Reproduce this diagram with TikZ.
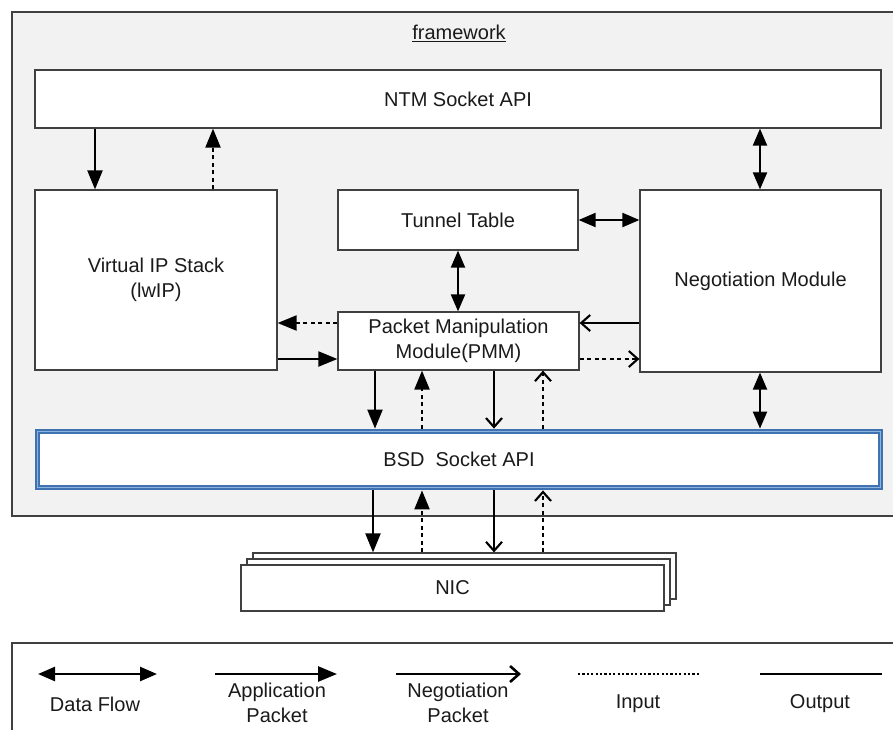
\documentclass[tikz,border=0pt]{standalone}
\usepackage{fontspec}
\setmainfont{Liberation Sans}
\usetikzlibrary{arrows.meta}
\definecolor{bgc}{HTML}{F2F2F2}
\definecolor{edge}{HTML}{404040}
\definecolor{bsdblue}{HTML}{3F73B0}
\definecolor{bsdlight}{HTML}{8DB3E2}
\definecolor{txt}{HTML}{1A1A1A}
\begin{document}
\begin{tikzpicture}[x=1pt,y=-1pt,
  every node/.style={font=\fontsize{20}{25}\selectfont, text=txt, align=center},
  blk/.style={draw=edge, line width=1.2pt, fill=white, inner sep=0pt},
  ln/.style={line width=2.1pt, draw=black},
  inp/.style={ln, dash pattern=on 4pt off 3.5pt},
  dotl/.style={ln, dash pattern=on 2.2pt off 2.2pt},
  app/.style={-{Triangle[length=19pt,width=15pt]}},
  neg/.style={-{Straight Barb[length=9pt,width=16pt]}},
  flow/.style={{Triangle[length=17pt,width=14pt]}-{Triangle[length=17pt,width=14pt]}},
]
\useasboundingbox (0,0) rectangle (893,729);
\fill[white] (0,0) rectangle (893,729);
% framework
\draw[fill=bgc, draw=edge, line width=1.4pt] (12,12) rectangle (910,516);
\node (fw) at (459,33) {\underline{framework}};
% blocks
\node[blk, minimum width=846pt, minimum height=58pt] (ntm) at (458,99) {NTM Socket API};
\node[blk, minimum width=242pt, minimum height=180pt] (vip) at (156,280) {Virtual IP Stack\\(lwIP)};
\node[blk, minimum width=240pt, minimum height=60pt] (tt) at (458,220) {Tunnel Table};
\node[blk, minimum width=241pt, minimum height=182pt] (nm) at (760.5,281) {Negotiation Module};
\node[blk, minimum width=241pt, minimum height=58pt] (pmm) at (458.5,341) {Packet Manipulation\\Module(PMM)};
\node[draw=bsdblue, line width=2.2pt, double=bsdlight, double distance=1.4pt, fill=white,
      minimum width=843pt, minimum height=56pt, inner sep=0pt, outer sep=2.9pt] (bsd) at (459,459.5) {BSD\ \ Socket API};
% NIC stack
\node[blk, minimum width=423pt, minimum height=46pt] (nic3) at (464.5,576) {};
\node[blk, minimum width=423pt, minimum height=46pt] (nic2) at (458.5,582) {};
\node[blk, minimum width=423pt, minimum height=46pt] (nic) at (452.5,588) {NIC};
% arrows
\draw[ln,app] (95,0 |- ntm.south) -- (95,0 |- vip.north);
\draw[inp,app] (213,0 |- vip.north) -- (213,0 |- ntm.south);
\draw[ln,flow] (760,0 |- ntm.south) -- (760,0 |- nm.north);
\draw[ln,flow] (tt.east) -- (tt.east -| nm.west);
\draw[ln,flow] (458,0 |- tt.south) -- (458,0 |- pmm.north);
\draw[inp,app] (0,323 -| pmm.west) -- (0,323 -| vip.east);
\draw[ln,app] (0,359 -| vip.east) -- (0,359 -| pmm.west);
\draw[ln,neg] (0,323 -| nm.west) -- (0,323 -| pmm.east);
\draw[inp,neg] (0,359 -| pmm.east) -- (0,359 -| nm.west);
\draw[ln,app] (375,0 |- pmm.south) -- (375,0 |- bsd.north);
\draw[inp,app] (422,0 |- bsd.north) -- (422,0 |- pmm.south);
\draw[ln,neg] (494,0 |- pmm.south) -- (494,0 |- bsd.north);
\draw[inp,neg] (543,0 |- bsd.north) -- (543,0 |- pmm.south);
\draw[ln,flow] (760,0 |- nm.south) -- (760,0 |- bsd.north);
\draw[ln,app] (373,0 |- bsd.south) -- (373,0 |- nic3.north);
\draw[inp,app] (422,0 |- nic3.north) -- (422,0 |- bsd.south);
\draw[ln,neg] (494,0 |- bsd.south) -- (494,0 |- nic3.north);
\draw[inp,neg] (543,0 |- nic3.north) -- (543,0 |- bsd.south);
% legend
\draw[draw=edge, line width=1.4pt, fill=white] (12,643) rectangle (910,745);
\coordinate (l1a) at (38,674);  \coordinate (l1b) at (157,674);
\coordinate (l2a) at (215,674); \coordinate (l2b) at (337,674);
\coordinate (l3a) at (396,674); \coordinate (l3b) at (521,674);
\coordinate (l4a) at (578,674); \coordinate (l4b) at (699,674);
\coordinate (l5a) at (760,674); \coordinate (l5b) at (882,674);
\draw[ln,line width=2.6pt,flow] (l1a) -- (l1b);
\draw[ln,line width=2.6pt,app] (l2a) -- (l2b);
\draw[ln,line width=2.6pt,neg] (l3a) -- (l3b);
\draw[dotl,line width=2.4pt] (l4a) -- (l4b);
\draw[ln,line width=2.6pt] (l5a) -- (l5b);
\node (t1) at (95,704) {Data Flow};
\node (t2) at (277,703) {Application\\Packet};
\node (t3) at (458,703) {Negotiation\\Packet};
\node (t4) at (638,704) {Input};
\node (t5) at (820,704) {Output};
\end{tikzpicture}
\end{document}
